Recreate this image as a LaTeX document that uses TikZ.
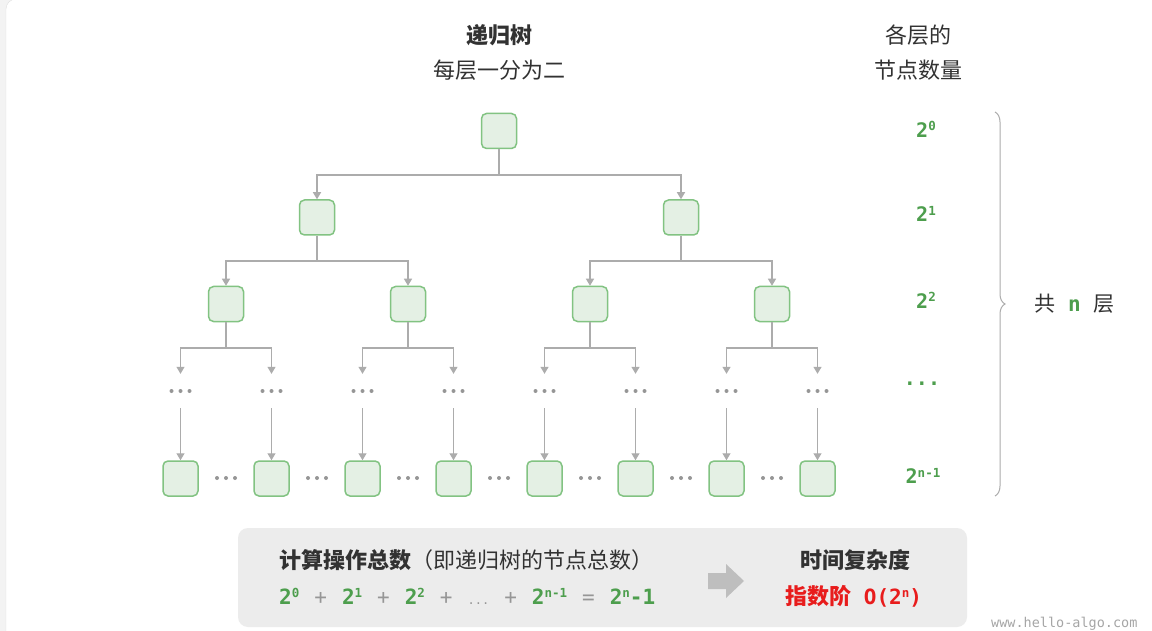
\documentclass[tikz,border=0pt]{standalone}
\usepackage{fontspec}
\setmainfont{Noto Sans CJK SC}
\newfontfamily\monofnt{DejaVu Sans Mono}
\usetikzlibrary{arrows.meta,decorations.pathreplacing}
\definecolor{boxf}{RGB}{228,240,228}
\definecolor{boxg}{RGB}{130,195,130}
\definecolor{textg}{RGB}{77,158,77}
\definecolor{lineg}{RGB}{172,172,172}
\definecolor{plusg}{RGB}{150,150,150}
\definecolor{dotc}{RGB}{150,150,150}
\definecolor{redt}{RGB}{232,28,28}
\definecolor{panel}{RGB}{236,236,236}
\definecolor{blockarr}{RGB}{190,190,190}
\definecolor{darkt}{RGB}{50,50,50}
\definecolor{bgstrip}{RGB}{243,243,243}
\newcommand\pw[1]{2\raisebox{0.34em}{\fontsize{12.5pt}{12.5pt}\selectfont #1}}
\newcommand\opsym[1]{{\color{plusg}\mdseries\hspace{15pt}#1\hspace{15pt}}}
\begin{document}
\begin{tikzpicture}[x=1pt,y=-1pt,
  tn/.style={draw=boxg, fill=boxf, line width=1.5pt, rounded corners=5pt, minimum size=35pt, inner sep=0pt},
  ln/.style={draw=lineg, line width=1.2pt},
  arr/.style={ln, -{Triangle[width=8pt,length=7pt]}},
  dotn/.style={minimum width=30pt, minimum height=34pt, inner sep=0pt,
    path picture={\fill[dotc] (path picture bounding box.center) ++(-9pt,0pt) circle (2pt) ++(9pt,0pt) circle (2pt) ++(9pt,0pt) circle (2pt);}},
  title/.style={text=darkt, font=\fontsize{22pt}{26pt}\selectfont},
  lvl/.style={text=textg, font=\monofnt\bfseries\fontsize{20pt}{22pt}\selectfont, inner sep=0pt}
]
\useasboundingbox (0,0) rectangle (1152,631);
\fill[bgstrip] (0,0) rectangle (1152,631);
\draw[fill=white, draw=black!12, rounded corners=10pt] (6,-1) rectangle (1175,645);

% titles
\node[title] (t1) at (499,35) {\bfseries 递归树};
\node[title] (t2) at (499,70) {每层一分为二};
\node[title] (t3) at (918,35) {各层的};
\node[title] (t4) at (918,70) {节点数量};

% tree
\node[tn] (n0) at (499,131) {};
\node[tn] (n1a) at (317,217.5) {};
\node[tn] (n1b) at (681,217.5) {};
\node[tn] (n2a) at (226,304) {};
\node[tn] (n2b) at (408,304) {};
\node[tn] (n2c) at (590,304) {};
\node[tn] (n2d) at (772,304) {};

\coordinate (b0) at (499,175);
\draw[ln] (n0) -- (b0);
\draw[arr] (b0) -| (n1a);
\draw[arr] (b0) -| (n1b);
\coordinate (b1a) at (317,261);
\coordinate (b1b) at (681,261);
\draw[ln] (n1a) -- (b1a);
\draw[ln] (n1b) -- (b1b);
\draw[arr] (b1a) -| (n2a);
\draw[arr] (b1a) -| (n2b);
\draw[arr] (b1b) -| (n2c);
\draw[arr] (b1b) -| (n2d);

\foreach \i/\x in {1/180.5,2/271.5,3/362.5,4/453.5,5/544.5,6/635.5,7/726.5,8/817.5}{
  \node[dotn] (d\i) at (\x,391) {};
  \node[tn] (m\i) at (\x,478.5) {};
  \draw[arr] (d\i) -- (m\i);
}
\foreach \i/\x in {1/226,2/317,3/408,4/499,5/590,6/681,7/772}{
  \node[dotn, minimum height=20pt] (e\i) at (\x,478) {};
}
\foreach \p/\a/\b in {n2a/1/2, n2b/3/4, n2c/5/6, n2d/7/8}{
  \coordinate (k\p) at (\p.south |- 0,348);
  \draw[ln] (\p) -- (k\p);
  \draw[arr] (k\p) -| (d\a);
  \draw[arr] (k\p) -| (d\b);
}

% level counts
\node[lvl] (l0) at (926,129) {\pw{0}};
\node[lvl] (l1) at (926,214) {\pw{1}};
\node[lvl] (l2) at (926,300) {\pw{2}};
\node[lvl] (l3) at (922,384) {...};
\node[lvl] (l4) at (923,476) {\pw{n-1}};

\coordinate (br1) at (995,112);
\coordinate (br2) at (995,496);
\draw[lineg, line width=1pt, decorate, decoration={brace, amplitude=10pt, aspect=0.5}] (br1) -- (br2);
\node[text=darkt, font=\fontsize{21pt}{24pt}\selectfont, anchor=west, inner sep=0pt] (tot) at (1034,304) {共\hspace{13pt}{\monofnt\bfseries\color{textg}n}\hspace{13pt}层};

% bottom panel
\node[fill=panel, rounded corners=10pt, minimum width=729pt, minimum height=99pt, inner sep=0pt] (pan) at (602.5,577.5) {};
\node[anchor=west, text=darkt, font=\fontsize{22pt}{26pt}\selectfont, inner sep=0pt] (s1) at (279,560) {\bfseries 计算操作总数\mdseries（即递归树的节点总数）};
\node[anchor=west, inner sep=0pt, text=textg, font=\monofnt\bfseries\fontsize{21pt}{23pt}\selectfont] (s2) at (279,596)
  {\pw{0}\opsym{+}\pw{1}\opsym{+}\pw{2}\opsym{+}{\color{plusg}\mdseries\fontsize{12pt}{12pt}\selectfont...}\opsym{+}\pw{n-1}\opsym{=}2\raisebox{0.34em}{\fontsize{12.5pt}{12.5pt}\selectfont n}-1};
\fill[blockarr] (708,573) -- (726,573) -- (726,564) -- (744,581) -- (726,598) -- (726,589) -- (708,589) -- cycle;
\node[text=darkt, font=\bfseries\fontsize{22pt}{26pt}\selectfont] (c1) at (855,560) {时间复杂度};
\node[text=redt, font=\bfseries\fontsize{22pt}{26pt}\selectfont] (c2) at (854,596) {指数阶\hspace{12pt}{\monofnt\fontsize{21pt}{23pt}\selectfont O(\pw{n})}};

\node[text=black!35, font=\monofnt\fontsize{13.5pt}{15pt}\selectfont, anchor=east] (wm) at (1141,624) {www.hello-algo.com};
\end{tikzpicture}
\end{document}
